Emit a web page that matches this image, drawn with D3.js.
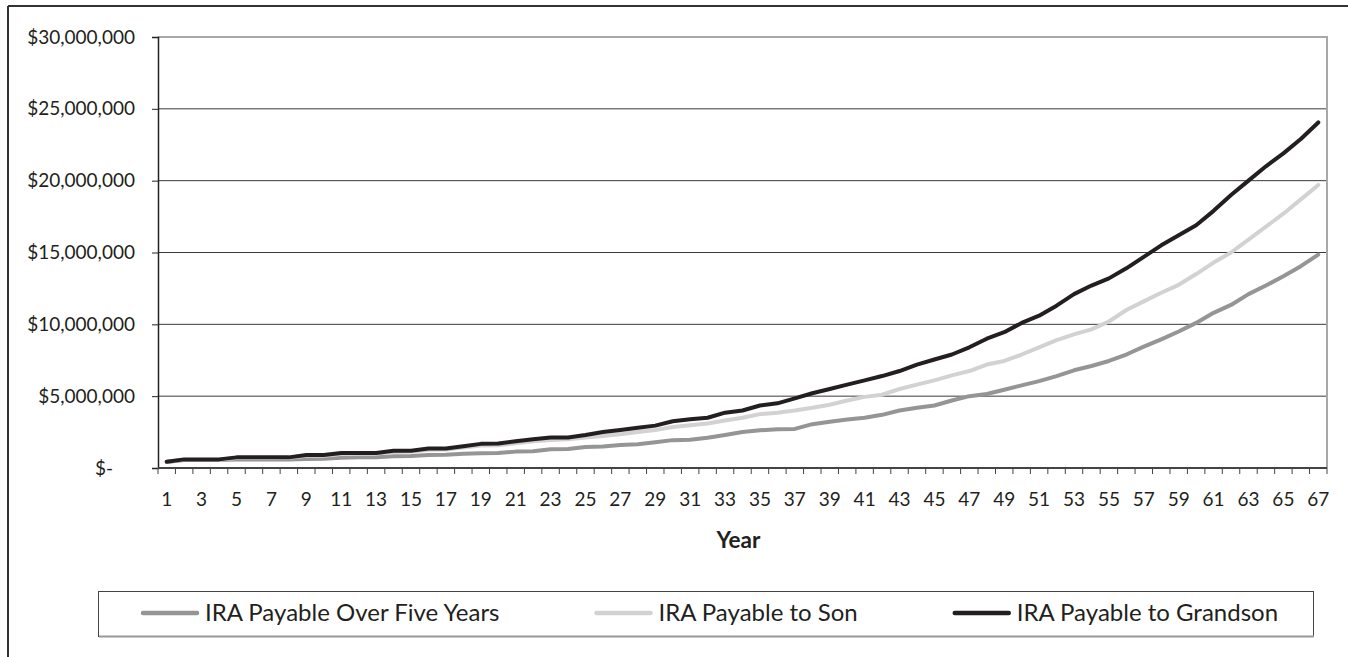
<!DOCTYPE html>
<html>
<head>
<meta charset="utf-8">
<script src="https://d3js.org/d3.v7.min.js"></script>
<style>
  body { margin: 0; background: #fff; }
  svg { display: block; font-family: Lato, "Open Sans", sans-serif; }
</style>
</head>
<body>
<div id="chart"></div>
<script>
// Years 1..67
var years = d3.range(1, 68);

// values in millions of dollars
var fiveYears = [
  0.42, 0.56, 0.56, 0.56, 0.6, 0.6, 0.6, 0.6, 0.62, 0.64,
  0.72, 0.74, 0.74, 0.82, 0.84, 0.9, 0.92, 1.0, 1.02, 1.04,
  1.14, 1.16, 1.3, 1.32, 1.46, 1.5, 1.6, 1.66, 1.8, 1.94,
  1.96, 2.1, 2.3, 2.5, 2.62, 2.7, 2.72, 3.05, 3.22, 3.38,
  3.5, 3.7, 4.0, 4.2, 4.35, 4.7, 5.0, 5.15, 5.45, 5.75,
  6.05, 6.4, 6.8, 7.1, 7.45, 7.9, 8.45, 8.95, 9.5, 10.1,
  10.8, 11.35, 12.1, 12.7, 13.35, 14.05, 14.85
];
var toSon = [
  0.43, 0.58, 0.58, 0.58, 0.7, 0.7, 0.7, 0.72, 0.85, 0.86,
  0.98, 1.0, 1.0, 1.12, 1.14, 1.27, 1.28, 1.42, 1.56, 1.58,
  1.72, 1.86, 1.95, 2.0, 2.12, 2.22, 2.35, 2.5, 2.65, 2.85,
  2.97, 3.1, 3.3, 3.5, 3.75, 3.85, 4.0, 4.2, 4.4, 4.7,
  4.95, 5.1, 5.5, 5.8, 6.1, 6.45, 6.75, 7.2, 7.45, 7.9,
  8.4, 8.9, 9.3, 9.65, 10.2, 11.0, 11.6, 12.2, 12.75, 13.5,
  14.3, 15.0, 15.9, 16.8, 17.7, 18.7, 19.7
];
var toGrandson = [
  0.44, 0.6, 0.6, 0.6, 0.74, 0.74, 0.74, 0.74, 0.9, 0.9,
  1.05, 1.05, 1.05, 1.2, 1.2, 1.36, 1.36, 1.52, 1.68, 1.7,
  1.86, 2.0, 2.13, 2.13, 2.3, 2.5, 2.65, 2.8, 2.95, 3.25,
  3.4, 3.5, 3.85, 4.0, 4.35, 4.5, 4.85, 5.2, 5.5, 5.8,
  6.1, 6.4, 6.75, 7.2, 7.55, 7.9, 8.4, 9.0, 9.45, 10.1,
  10.6, 11.3, 12.1, 12.7, 13.2, 13.9, 14.7, 15.5, 16.2, 16.9,
  17.9, 19.0, 20.0, 21.0, 21.9, 22.9, 24.05
];

var seriesNames = ["IRA Payable Over Five Years", "IRA Payable to Son", "IRA Payable to Grandson"];
var seriesColors = ["#959595", "#d2d2d2", "#231f20"];

var yTicks = [0, 5e6, 10e6, 15e6, 20e6, 25e6, 30e6];
var yTickLabels = ["$-", "$5,000,000", "$10,000,000", "$15,000,000", "$20,000,000", "$25,000,000", "$30,000,000"];

var xAxisTitle = "Year";
var fontFamily = "Lato, 'Open Sans', sans-serif";

var series = [fiveYears, toSon, toGrandson].map(function (vals, i) {
  return {
    name: seriesNames[i],
    color: seriesColors[i],
    values: vals.map(function (v, j) { return { year: years[j], value: v * 1e6 }; })
  };
});

var W = 1348, H = 657;
var plot = { left: 158, right: 1327, top: 37, bottom: 468 };

var svg = d3.select("#chart")
  .append("svg")
  .attr("width", W)
  .attr("height", H);

// outer frame (top and left edges visible)
svg.append("line")
  .attr("x1", 8).attr("x2", W).attr("y1", 6).attr("y2", 6)
  .attr("stroke", "#333").attr("stroke-width", 2);
svg.append("line")
  .attr("x1", 8).attr("x2", 8).attr("y1", 6).attr("y2", H)
  .attr("stroke", "#333").attr("stroke-width", 2);

// scales
var x = d3.scaleBand()
  .domain(years)
  .range([plot.left, plot.right])
  .padding(0);

var y = d3.scaleLinear()
  .domain([0, 30e6])
  .range([plot.bottom, plot.top]);

// gridlines
svg.append("g")
  .selectAll("line")
  .data(yTicks.filter(function (d) { return d > 0 && d < 30e6; }))
  .enter()
  .append("line")
  .attr("x1", plot.left).attr("x2", plot.right)
  .attr("y1", function (d) { return y(d); })
  .attr("y2", function (d) { return y(d); })
  .attr("stroke", "#3a3a3a")
  .attr("stroke-width", 1);

// plot area border top / right
svg.append("line")
  .attr("x1", plot.left).attr("x2", plot.right + 1)
  .attr("y1", y(30e6)).attr("y2", y(30e6))
  .attr("stroke", "#a8a8a8").attr("stroke-width", 2);
svg.append("line")
  .attr("x1", plot.right).attr("x2", plot.right)
  .attr("y1", y(30e6)).attr("y2", plot.bottom)
  .attr("stroke", "#a8a8a8").attr("stroke-width", 2);

// Y axis
var yAxis = svg.append("g")
  .attr("transform", "translate(" + plot.left + ",0)")
  .call(d3.axisLeft(y)
    .tickValues(yTicks)
    .tickSize(6)
    .tickPadding(17)
    .tickFormat(function (d, i) { return yTickLabels[i]; }));
yAxis.attr("font-family", fontFamily).attr("font-size", null);
yAxis.select(".domain").attr("stroke", "#222").attr("stroke-width", 1.5);
yAxis.selectAll(".tick line").attr("stroke", "#222");
yAxis.selectAll(".tick text")
  .attr("fill", "#231f20")
  .style("font-size", "19px")
  .attr("dx", function (d) { return d === 0 ? -22 : 0; });

// X axis, ticks between categories
var xAxis = svg.append("g")
  .attr("transform", "translate(0," + plot.bottom + ")")
  .call(d3.axisBottom(x)
    .tickSize(0)
    .tickPadding(25)
    .tickFormat(function (d) { return d % 2 === 1 ? d : ""; }));
xAxis.attr("font-family", fontFamily).attr("font-size", null);
xAxis.select(".domain").remove();
xAxis.selectAll(".tick text")
  .attr("fill", "#231f20")
  .style("font-size", "19px");

svg.append("line")
  .attr("x1", plot.left).attr("x2", plot.right)
  .attr("y1", plot.bottom).attr("y2", plot.bottom)
  .attr("stroke", "#444").attr("stroke-width", 2);

svg.append("g")
  .selectAll("line")
  .data(years.concat([years.length + 1]))
  .enter()
  .append("line")
  .attr("x1", function (d) { return plot.left + (d - 1) * x.bandwidth(); })
  .attr("x2", function (d) { return plot.left + (d - 1) * x.bandwidth(); })
  .attr("y1", plot.bottom)
  .attr("y2", plot.bottom + 6)
  .attr("stroke", "#444")
  .attr("stroke-width", 1);

// axis title
svg.append("text")
  .attr("x", (plot.left + plot.right) / 2 - 4)
  .attr("y", 548)
  .attr("text-anchor", "middle")
  .style("font-size", "22.5px")
  .style("font-weight", "bold")
  .attr("fill", "#231f20")
  .text(xAxisTitle);

// lines
var line = d3.line()
  .x(function (d) { return x(d.year) + x.bandwidth() / 2; })
  .y(function (d) { return y(d.value); });

svg.append("g")
  .selectAll("path")
  .data(series)
  .enter()
  .append("path")
  .attr("d", function (d) { return line(d.values); })
  .attr("fill", "none")
  .attr("stroke", function (d) { return d.color; })
  .attr("stroke-width", 4)
  .attr("stroke-linejoin", "round")
  .attr("stroke-linecap", "round");

// legend
var legend = svg.append("g");
legend.append("rect")
  .attr("x", 98.5).attr("y", 591.5)
  .attr("width", 1215).attr("height", 45)
  .attr("fill", "#fff")
  .attr("stroke", "#444")
  .attr("stroke-width", 1);
legend.append("line")
  .attr("x1", 99).attr("x2", 1314).attr("y1", 636.5).attr("y2", 636.5)
  .attr("stroke", "#999").attr("stroke-width", 2);

var lx = 143;
series.forEach(function (s) {
  var g = legend.append("g").attr("transform", "translate(" + lx + ",613)");
  g.append("line")
    .attr("x1", 0).attr("x2", 54)
    .attr("stroke", s.color)
    .attr("stroke-width", 4.5)
    .attr("stroke-linecap", "round");
  var t = g.append("text")
    .attr("x", 62)
    .attr("dy", "0.35em")
    .style("font-size", "24px")
    .attr("fill", "#231f20")
    .text(s.name);
  lx += 62 + t.node().getComputedTextLength() + 97;
});
</script>
</body>
</html>
